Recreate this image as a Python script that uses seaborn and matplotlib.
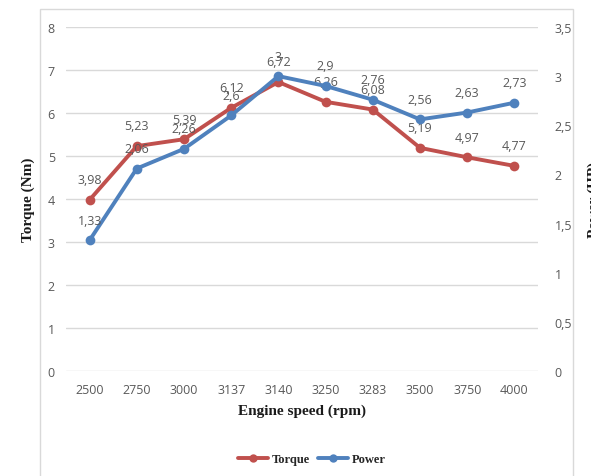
import matplotlib
matplotlib.use("Agg")
import matplotlib.pyplot as plt
from matplotlib.patches import Rectangle
from matplotlib.lines import Line2D
import seaborn as sns
import pandas as pd

# Engine test data
speeds = ["2500", "2750", "3000", "3137", "3140", "3250", "3283", "3500", "3750", "4000"]
torque = [3.98, 5.23, 5.39, 6.12, 6.72, 6.26, 6.08, 5.19, 4.97, 4.77]
power = [1.33, 2.06, 2.26, 2.6, 3, 2.9, 2.76, 2.56, 2.63, 2.73]
torque_ticks = [0, 1, 2, 3, 4, 5, 6, 7, 8]
power_ticks = [0, 0.5, 1, 1.5, 2, 2.5, 3, 3.5]

RED = "#C0504D"
BLUE = "#4F81BD"
TICK_COLOR = "#595959"
GRID_COLOR = "#D9D9D9"

sns.set_theme(style="white")
plt.rcParams["font.family"] = ["Open Sans", "DejaVu Sans"]

W, H = 591, 477
fig = plt.figure(figsize=(W / 100, H / 100), dpi=100)
ax = fig.add_axes([66 / W, 1 - 372 / H, (538 - 66) / W, (372 - 28) / H])
ax2 = ax.twinx()

df = pd.DataFrame({"speed": speeds, "torque": torque, "power": power})
df["pos"] = range(len(speeds))


def comma(v):
    return f"{v:g}".replace(".", ",")


sns.lineplot(data=df, x="pos", y="torque", ax=ax, color=RED, linewidth=2.8,
             marker="o", markersize=7, markeredgewidth=0, zorder=3)
sns.lineplot(data=df, x="pos", y="power", ax=ax2, color=BLUE, linewidth=2.8,
             marker="o", markersize=7, markeredgewidth=0, zorder=3)

ax.set_xlim(-0.5, len(speeds) - 0.5)
ax.set_ylim(0, 8)
ax2.set_ylim(0, 3.5)

ax.set_xticks(df["pos"])
ax.set_xticklabels(speeds)
ax.set_yticks(torque_ticks)
ax.set_yticklabels([comma(t) for t in torque_ticks])
ax2.set_yticks(power_ticks)
ax2.set_yticklabels([comma(t) for t in power_ticks])

for a in (ax, ax2):
    for s in a.spines.values():
        s.set_visible(False)
    a.tick_params(axis="both", length=0, labelsize=9, labelcolor=TICK_COLOR)
    a.set_xlabel("")
    a.set_ylabel("")
ax.tick_params(axis="y", pad=8)
ax.tick_params(axis="x", pad=9)
ax2.tick_params(axis="y", pad=12)
ax2.grid(False)
ax.yaxis.grid(True, color=GRID_COLOR, linewidth=1)
ax.set_axisbelow(True)

# Value labels above each point
for i, v in enumerate(torque):
    ax.annotate(comma(v), (i, v), xytext=(0, 14.5), textcoords="offset points",
                ha="center", va="center", fontsize=9, color=TICK_COLOR)
for i, v in enumerate(power):
    ax2.annotate(comma(v), (i, v), xytext=(0, 14.5), textcoords="offset points",
                 ha="center", va="center", fontsize=9, color=TICK_COLOR)

title_font = dict(family=["Liberation Serif", "DejaVu Serif"], fontweight="bold",
                  fontsize=11, color="#1a1a1a")
fig.text(302 / W, 1 - 411 / H, "Engine speed (rpm)", ha="center", va="center", **title_font)
fig.text(28 / W, 1 - 200 / H, "Torque (Nm)", ha="center", va="center", rotation=90, **title_font)
fig.text(594 / W, 1 - 200 / H, "Power (HP)", ha="center", va="center", rotation=90, **title_font)

# Legend
handles = [Line2D([], [], color=RED, linewidth=2.8, marker="o", markersize=6, markeredgewidth=0),
           Line2D([], [], color=BLUE, linewidth=2.8, marker="o", markersize=6, markeredgewidth=0)]
leg = fig.legend(handles, ["Torque", "Power"], loc="center", bbox_to_anchor=(312 / W, 1 - 460 / H),
                 ncol=2, frameon=False, handlelength=2.4, handletextpad=0.3, columnspacing=0.6,
                 prop={"family": ["Liberation Serif", "DejaVu Serif"], "weight": "bold", "size": 9})

# Chart frame
fig.patches.append(Rectangle((40 / W, -0.1), (573 - 40) / W, 1.1 - 10 / H,
                             transform=fig.transFigure, fill=False,
                             edgecolor=GRID_COLOR, linewidth=1, zorder=0))

fig.savefig("out.png", dpi=100)
